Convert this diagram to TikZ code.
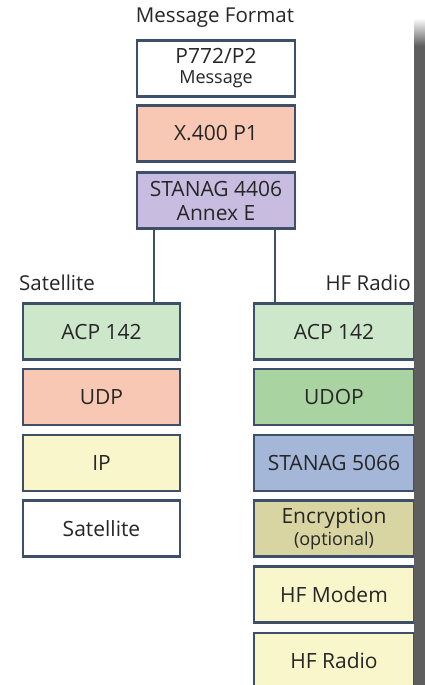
\documentclass[tikz,border=0pt]{standalone}
\usepackage{fontspec}
\setmainfont{Open Sans}
\usetikzlibrary{calc}
\definecolor{edge}{HTML}{3E5069}
\definecolor{ink}{HTML}{262626}
\definecolor{salmon}{HTML}{F9C8B4}
\definecolor{lavender}{HTML}{C8BDE0}
\definecolor{mint}{HTML}{CDE7CB}
\definecolor{leaf}{HTML}{A9D3A1}
\definecolor{sky}{HTML}{A4B7D8}
\definecolor{khaki}{HTML}{D9D5A2}
\definecolor{cream}{HTML}{F9F6CB}
\definecolor{shadowgray}{HTML}{5E5E5E}
\tikzset{
  layer/.style={draw=edge, line width=2.6pt, fill=#1, minimum width=157pt,
    minimum height=56pt, inner sep=0pt, align=center, text=ink,
    font=\fontsize{21}{23}\selectfont},
  layer/.default=white,
  link/.style={draw=edge, line width=2.6pt},
  heading/.style={text=ink, inner sep=0pt, font=\fontsize{20.5}{23}\selectfont}
}
\begin{document}
\begin{tikzpicture}[x=1pt, y=-1pt]
\useasboundingbox (0,0) rectangle (425,685);
\clip (0,0) rectangle (425,685);
\fill[white] (0,0) rectangle (425,685);

% message format stack
\node[heading] (hdr) at (215,18) {Message Format};
\node[layer, minimum width=158pt] (p772) at (216,68.5)
  {P772/P2\\[-3pt]{\fontsize{18}{20}\selectfont Message}};
\node[layer=salmon, minimum width=158pt] (x400) at (216,133.5) {X.400 P1};
\node[layer=lavender, minimum width=158pt] (s4406) at (216,200.5)
  {STANAG 4406\\[1pt]Annex E};

% satellite stack
\node[heading, anchor=west] (satlbl) at (19,283) {Satellite};
\node[layer=mint] (acpL) at (101.5,331.5) {ACP 142};
\node[layer=salmon] (udp) at (101.5,397) {UDP};
\node[layer=cream] (ip) at (101.5,463) {IP};
\node[layer] (sat) at (101.5,528.5) {Satellite};

% HF radio stack
\node[heading, anchor=east] (hflbl) at (411,283) {HF Radio};
\node[layer=mint, minimum width=160pt] (acpR) at (334,331.5) {ACP 142};
\node[layer=leaf, minimum width=160pt] (udop) at (334,397) {UDOP};
\node[layer=sky, minimum width=160pt] (s5066) at (334,463) {STANAG 5066};
\node[layer=khaki, minimum width=160pt] (enc) at (334,528.5)
  {Encryption\\[-1pt]{\fontsize{18}{20}\selectfont (optional)}};
\node[layer=cream, minimum width=160pt] (modem) at (334,594.5) {HF Modem};
\node[layer=cream, minimum width=160pt] (radio) at (334,661) {HF Radio};

% links from the message stack to both bearers
\coordinate (lx) at (154,0);
\coordinate (rx) at (275,0);
\draw[link] (s4406.south -| lx) -- (acpL.north -| lx);
\draw[link] (s4406.south -| rx) -- (acpR.north -| rx);

% page-edge shadow
\shade[top color=white, bottom color=shadowgray] (414,18) rectangle (425,46);
\fill[shadowgray] (414,46) rectangle (425,685);
\end{tikzpicture}
\end{document}
